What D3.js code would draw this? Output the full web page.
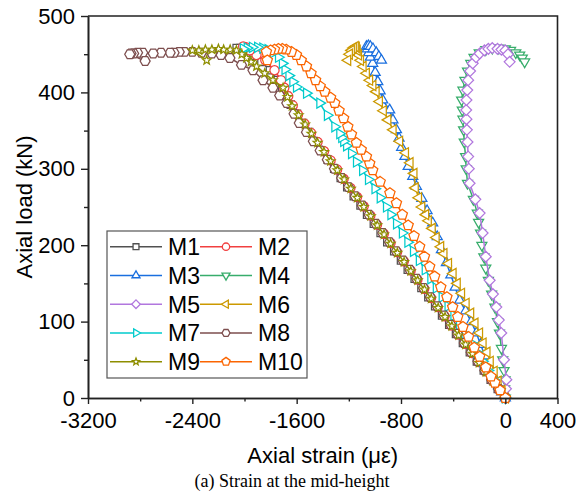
<!DOCTYPE html>
<html>
<head>
<meta charset="utf-8">
<script src="https://cdn.jsdelivr.net/npm/d3@7"></script>
<style>
  html, body { margin: 0; padding: 0; background: #fff; }
  svg { display: block; font-family: "Liberation Sans", Arial, sans-serif; }
</style>
</head>
<body>
<svg id="chart" width="577" height="495"></svg>
<script>
// Axis ticks
const xTicks = [-3200, -2400, -1600, -800, 0, 400];
const xMinor = [-2800, -2000, -1200, -400];
const yTicks = [0, 100, 200, 300, 400, 500];
const yMinor = [50, 150, 250, 350, 450];

// Specimen names and colours
const seriesNames = ["M1", "M2", "M3", "M4", "M5", "M6", "M7", "M8", "M9", "M10"];
const seriesColors = ["#515151", "#F14040", "#1A6FDF", "#37AD6B", "#B177DE",
                      "#CC9900", "#00CBCC", "#7D4E4E", "#8E8E00", "#FB6501"];
const seriesSymbols = ["square", "circle", "triUp", "triDown", "diamond",
                       "triLeft", "triRight", "hexagon", "star", "pentagon"];

// Measured curves: [axial strain (με), axial load (kN)]
const m1 = [[0,0],[-58,12],[-112,24],[-165,36],[-218,48],[-272,60],[-325,72],[-378,84],[-430,96],[-485,108],
  [-538,120],[-590,132],[-643,144],[-695,156],[-748,168],[-800,180],[-852,192],[-905,204],[-956,216],[-1008,228],
  [-1060,240],[-1110,252],[-1162,264],[-1212,276],[-1262,288],[-1312,300],[-1362,312],[-1410,324],[-1458,336],
  [-1505,348],[-1552,360],[-1598,372],[-1645,384],[-1680,396],[-1710,406],[-1745,416],[-1805,429],[-1870,440],
  [-1930,448],[-1990,454],[-2030,458],[-2060,458]];
const m2 = [[0,0],[-48,11],[-100,23],[-152,35],[-205,47],[-258,59],[-310,71],[-362,83],[-415,95],[-466,107],
  [-518,119],[-570,131],[-622,143],[-674,155],[-726,167],[-778,179],[-830,191],[-880,203],[-932,215],[-984,227],
  [-1035,239],[-1086,251],[-1137,263],[-1188,275],[-1240,287],[-1290,299],[-1340,311],[-1390,323],[-1440,335],
  [-1490,347],[-1540,359],[-1590,371],[-1630,383],[-1665,395],[-1695,406],[-1720,416],[-1770,429],[-1840,442],
  [-1908,449],[-1960,455],[-1990,459],[-2010,460]];
const m3 = [[0,0],[-28,8],[-52,16],[-80,26],[-120,41],[-155,55],[-190,70],[-222,85],[-262,100],[-305,114],
  [-350,128],[-385,145],[-418,161],[-452,177],[-490,194],[-522,211],[-557,229],[-600,245],[-640,261],[-682,277],
  [-710,290],[-745,303],[-770,316],[-795,328],[-815,340],[-835,351],[-862,364],[-887,377],[-940,390],[-960,402],
  [-978,414],[-998,426],[-1017,438],[-1035,446],[-1048,452],[-1058,457],[-1065,460],[-1050,461],[-1035,460],
  [-1015,457],[-990,452],[-970,447],[-950,442]];
const m4 = [[0,0],[-5,12],[-2,24],[-10,36],[-20,50],[-30,65],[-45,85],[-60,100],[-80,119],[-105,136],
  [-130,154],[-150,170],[-165,185],[-180,200],[-190,216],[-205,230],[-215,242],[-245,260],[-290,281],[-300,300],
  [-305,316],[-315,335],[-320,351],[-325,365],[-330,377],[-335,390],[-325,403],[-310,416],[-290,428],[-265,438],
  [-240,446],[-200,452],[-150,456],[-100,458],[-50,458],[0,457],[40,455],[80,452],[110,449],[130,445],[148,440]];
const m5 = [[0,0],[5,12],[8,24],[-10,50],[-31,85],[-50,102],[-69,119],[-95,136],[-120,154],[-150,185],
  [-174,216],[-197,242],[-230,260],[-274,281],[-280,300],[-285,316],[-290,335],[-295,351],[-298,365],[-300,377],
  [-298,390],[-292,403],[-285,416],[-270,428],[-250,438],[-225,446],[-197,451],[-160,455],[-130,457],[-100,458],
  [-60,457],[-30,456],[0,455],[20,450],[33,440]];
const m6 = [[0,0],[-25,10],[-55,22],[-85,35],[-115,48],[-140,60],[-170,72],[-197,85],[-232,98],[-265,111],
  [-300,124],[-335,137],[-368,150],[-400,163],[-435,176],[-470,189],[-495,198],[-530,210],[-560,222],[-590,232],
  [-610,240],[-640,250],[-665,262],[-690,275],[-700,294],[-730,308],[-765,321],[-810,336],[-860,351],[-900,364],
  [-935,376],[-965,388],[-990,401],[-1015,409],[-1040,416],[-1065,425],[-1090,434],[-1110,442],[-1125,449],
  [-1135,455],[-1142,459],[-1150,460],[-1165,458],[-1180,455],[-1195,450],[-1208,442]];
const m7 = [[0,0],[-45,12],[-90,24],[-133,36],[-175,48],[-220,60],[-262,72],[-310,84],[-352,96],[-395,108],
  [-440,120],[-485,132],[-530,144],[-572,156],[-615,168],[-660,180],[-705,192],[-748,204],[-790,216],[-835,228],
  [-878,240],[-912,250],[-960,262],[-1000,274],[-1050,286],[-1095,298],[-1142,309],[-1180,320],[-1218,330],
  [-1240,336],[-1255,341],[-1270,346],[-1308,355],[-1365,370],[-1423,386],[-1525,399],[-1602,407],[-1630,414],
  [-1660,422],[-1690,430],[-1710,438],[-1740,446],[-1780,452],[-1820,456],[-1860,458],[-1900,459],[-1940,459],
  [-1980,458],[-2010,457]];
const m8 = [[0,0],[-52,12],[-105,24],[-157,36],[-210,48],[-262,60],[-314,72],[-366,84],[-418,96],[-470,108],
  [-522,120],[-575,132],[-627,144],[-680,156],[-732,168],[-784,180],[-836,192],[-888,204],[-940,216],[-992,228],
  [-1045,240],[-1097,252],[-1150,264],[-1202,276],[-1255,288],[-1310,300],[-1365,312],[-1420,324],[-1472,336],
  [-1525,348],[-1580,360],[-1620,372],[-1676,386],[-1730,396],[-1782,406],[-1858,416],[-1935,429],[-2023,436],
  [-2112,445],[-2180,449],[-2250,451],[-2330,452],[-2400,453],[-2460,453],[-2500,453],[-2540,452],[-2570,452],
  [-2640,452],[-2700,451],[-2780,452],[-2820,452],[-2850,451],[-2870,451],[-2880,450],[-2762,441]];
const m9 = [[0,0],[-42,10],[-95,22],[-148,34],[-200,46],[-252,58],[-305,70],[-358,82],[-410,94],[-462,106],
  [-515,118],[-568,130],[-620,142],[-672,154],[-725,166],[-776,178],[-828,190],[-880,202],[-930,214],[-982,226],
  [-1032,238],[-1085,250],[-1135,262],[-1185,274],[-1236,286],[-1288,298],[-1340,310],[-1390,322],[-1440,334],
  [-1487,346],[-1535,358],[-1585,370],[-1635,382],[-1670,394],[-1704,406],[-1782,416],[-1845,425],[-1908,434],
  [-1950,440],[-1985,445],[-2020,450],[-2062,455],[-2110,456],[-2160,456],[-2200,457],[-2250,456],[-2300,456],
  [-2350,455],[-2400,455],[-2290,442]];
const m10 = [[0,0],[-40,10],[-80,20],[-110,28],[-150,40],[-197,54],[-238,66],[-282,80],[-325,93],[-365,106],
  [-404,119],[-448,132],[-495,145],[-542,159],[-580,172],[-620,185],[-657,198],[-700,212],[-745,226],[-790,240],
  [-835,255],[-885,268],[-960,283],[-1017,298],[-1040,307],[-1065,316],[-1105,325],[-1142,334],[-1180,345],
  [-1208,355],[-1240,366],[-1275,376],[-1308,386],[-1340,393],[-1385,401],[-1420,408],[-1455,416],[-1490,425],
  [-1525,434],[-1565,442],[-1602,449],[-1640,453],[-1680,456],[-1710,457],[-1740,457],[-1770,456],[-1800,455],
  [-1832,453],[-1825,442]];

const seriesData = [m1, m2, m3, m4, m5, m6, m7, m8, m9, m10];

// Layout
const svg = d3.select("#chart");
const plot = { left: 88, right: 557.5, top: 16, bottom: 398 };
const x = d3.scaleLinear().domain([-3200, 400]).range([plot.left, plot.right]);
const y = d3.scaleLinear().domain([0, 500]).range([plot.bottom, plot.top]);

// Polygon-based symbol types; the size argument is used as the circumradius
function polygonType(n, startDeg) {
  return {
    draw(ctx, r) {
      for (let i = 0; i < n; i++) {
        const a = (startDeg + i * 360 / n) * Math.PI / 180;
        const px = r * Math.cos(a), py = r * Math.sin(a);
        if (i === 0) ctx.moveTo(px, py); else ctx.lineTo(px, py);
      }
      ctx.closePath();
    }
  };
}
const circleType = { draw(ctx, r) { ctx.moveTo(r, 0); ctx.arc(0, 0, r, 0, 2 * Math.PI); } };
const starType = {
  draw(ctx, r) {
    const inner = r * 0.42;
    for (let i = 0; i < 10; i++) {
      const rr = i % 2 === 0 ? r : inner;
      const a = (-90 + i * 36) * Math.PI / 180;
      const px = rr * Math.cos(a), py = rr * Math.sin(a);
      if (i === 0) ctx.moveTo(px, py); else ctx.lineTo(px, py);
    }
    ctx.closePath();
  }
};
const symbolTypes = {
  square: [polygonType(4, 45), 5.2],
  circle: [circleType, 4.6],
  triUp: [polygonType(3, -90), 5.8],
  triDown: [polygonType(3, 90), 5.8],
  diamond: [polygonType(4, -90), 5.4],
  triLeft: [polygonType(3, 180), 5.8],
  triRight: [polygonType(3, 0), 5.8],
  hexagon: [polygonType(6, 0), 5.0],
  star: [starType, 4.6],
  pentagon: [polygonType(5, -90), 5.4]
};

// Curves with their markers, drawn in specimen order
const line = d3.line().x(d => x(d[0])).y(d => y(d[1]));
const curves = svg.append("g").attr("class", "curves");
seriesData.forEach((data, i) => {
  const g = curves.append("g");
  g.append("path")
    .attr("d", line(data))
    .attr("fill", "none")
    .attr("stroke", seriesColors[i])
    .attr("stroke-width", 1.5);
  const [type, r] = symbolTypes[seriesSymbols[i]];
  const sym = d3.symbol().type(type).size(r);
  g.selectAll("path.pt").data(data).join("path")
    .attr("class", "pt")
    .attr("d", sym)
    .attr("transform", d => `translate(${x(d[0])},${y(d[1])})`)
    .attr("fill", "#fff")
    .attr("stroke", seriesColors[i])
    .attr("stroke-width", 1.25);
});

// Frame
svg.append("path")
  .attr("d", `M${plot.left},${plot.top}H${plot.right}V${plot.bottom}`)
  .attr("fill", "none").attr("stroke", "#222").attr("stroke-width", 1.6);

// Axes
const axisFont = 22;
const xAxis = svg.append("g").attr("transform", `translate(0,${plot.bottom})`)
  .call(d3.axisBottom(x).tickValues(xTicks).tickSize(6).tickPadding(8).tickSizeOuter(0)
        .tickFormat(d3.format("d")));
const xAxisMinor = svg.append("g").attr("transform", `translate(0,${plot.bottom})`)
  .call(d3.axisBottom(x).tickValues(xMinor).tickSize(3.5).tickFormat("").tickSizeOuter(0));
const yAxis = svg.append("g").attr("transform", `translate(${plot.left},0)`)
  .call(d3.axisLeft(y).tickValues(yTicks).tickSize(7).tickPadding(6).tickSizeOuter(0));
const yAxisMinor = svg.append("g").attr("transform", `translate(${plot.left},0)`)
  .call(d3.axisLeft(y).tickValues(yMinor).tickSize(4).tickFormat("").tickSizeOuter(0));
[xAxis, xAxisMinor, yAxis, yAxisMinor].forEach(a => {
  a.select(".domain").attr("stroke", "#222").attr("stroke-width", 1.6);
  a.selectAll(".tick line").attr("stroke", "#222").attr("stroke-width", 1.4);
  a.selectAll("text").attr("font-size", axisFont)
    .attr("font-family", "'Liberation Sans', Arial, sans-serif").attr("fill", "#000");
});
// Plain hyphen-minus for negative tick labels
xAxis.selectAll("text").text(d => String(d));

// Axis titles
svg.append("text")
  .attr("x", (plot.left + plot.right) / 2).attr("y", 463)
  .attr("text-anchor", "middle").attr("font-size", 22).attr("fill", "#000")
  .text("Axial strain (με)");
svg.append("text")
  .attr("transform", `translate(32,${(plot.top + plot.bottom) / 2}) rotate(-90)`)
  .attr("text-anchor", "middle").attr("font-size", 22).attr("fill", "#000")
  .text("Axial load (kN)");

// Caption
svg.append("text")
  .attr("x", 292).attr("y", 487)
  .attr("text-anchor", "middle").attr("font-size", 18)
  .attr("font-family", "'Liberation Serif', 'Times New Roman', serif").attr("fill", "#000")
  .text("(a) Strain at the mid-height");

// Legend
const legend = svg.append("g").attr("class", "legend");
legend.append("rect")
  .attr("x", 107).attr("y", 231).attr("width", 200).attr("height", 147)
  .attr("fill", "#fff").attr("stroke", "#555").attr("stroke-width", 1.2);
const legendCols = [110, 200];
const rowY = i => 246.7 + i * 28.75;
seriesNames.forEach((name, i) => {
  const col = i % 2, row = Math.floor(i / 2);
  const lx = legendCols[col], ly = rowY(row);
  const item = legend.append("g");
  item.append("line")
    .attr("x1", lx).attr("x2", lx + 52).attr("y1", ly).attr("y2", ly)
    .attr("stroke", seriesColors[i]).attr("stroke-width", 1.6);
  const [type, r] = symbolTypes[seriesSymbols[i]];
  item.append("path")
    .attr("d", d3.symbol().type(type).size(r * 0.8)())
    .attr("transform", `translate(${lx + 26},${ly})`)
    .attr("fill", "#fff").attr("stroke", seriesColors[i]).attr("stroke-width", 1.3);
  item.append("text")
    .attr("x", lx + 58).attr("y", ly + 8.3)
    .attr("font-size", 23).attr("fill", "#000")
    .text(name);
});
</script>
</body>
</html>
